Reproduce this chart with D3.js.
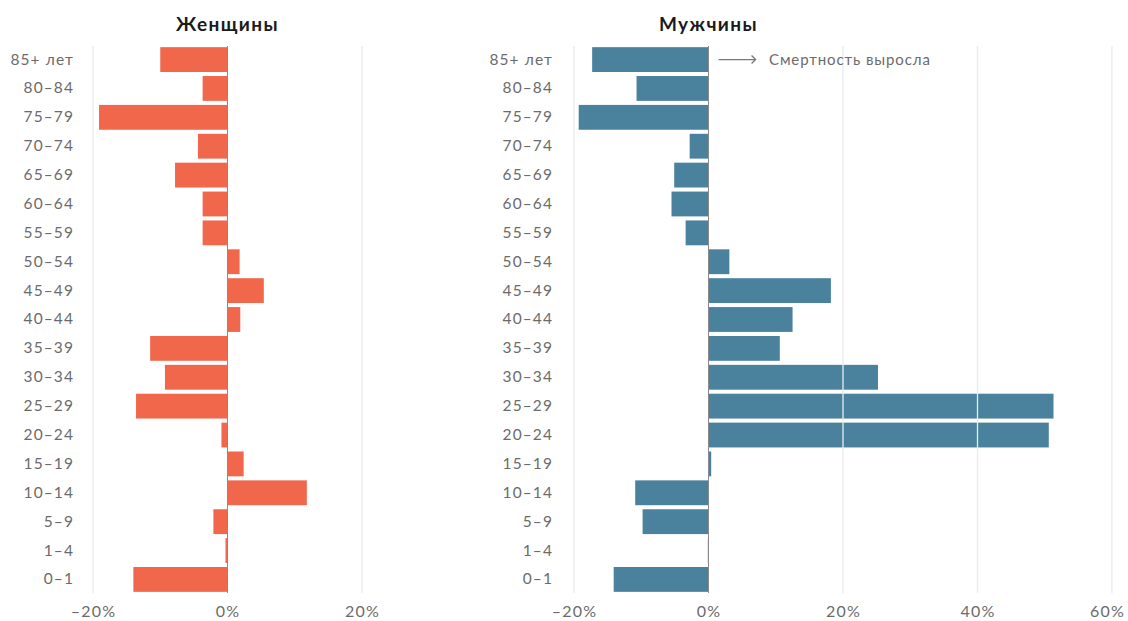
<!DOCTYPE html>
<html>
<head>
<meta charset="utf-8">
<script src="https://d3js.org/d3.v7.min.js"></script>
<style>
  body { margin: 0; background: #ffffff; }
  text { font-family: Lato, "Noto Sans", sans-serif; }
  .tick-label { font-size: 15.5px; fill: #6b6b6b; letter-spacing: 1.1px; }
  .x-label { font-size: 16px; fill: #6b6b6b; letter-spacing: 1.2px; }
  .panel-title { font-size: 19px; font-weight: 700; fill: #1a1a1a; letter-spacing: 1.4px; }
  .note { font-size: 15px; fill: #6b6b6b; letter-spacing: 0.9px; }
</style>
</head>
<body>
<div id="chart"></div>
<script>
// age groups, top to bottom
const ages = ["85+ лет", "80–84", "75–79", "70–74", "65–69", "60–64", "55–59", "50–54", "45–49",
  "40–44", "35–39", "30–34", "25–29", "20–24", "15–19", "10–14", "5–9", "1–4", "0–1"];

// change in mortality, %
const women = [-10, -3.7, -19.1, -4.4, -7.8, -3.7, -3.7, 1.8, 5.4, 1.9, -11.5, -9.3, -13.6, -0.9, 2.4, 11.8, -2.1, -0.3, -14.0];
const men = [-17.3, -10.7, -19.3, -2.8, -5.1, -5.5, -3.4, 3.1, 18.2, 12.5, 10.6, 25.2, 51.3, 50.6, 0.4, -10.9, -9.8, -0.1, -14.1];

const womenTicks = [-20, 0, 20];
const menTicks = [-20, 0, 20, 40, 60];

const width = 1128, height = 621;

const svg = d3.select("#chart")
  .append("svg")
  .attr("width", width)
  .attr("height", height);

const y = d3.scaleBand()
  .domain(ages)
  .range([46, 593])
  .paddingInner(0.14)
  .paddingOuter(0.04);

const panels = [
  {title: "Женщины", values: women, ticks: womenTicks, domain: [-20, 20], range: [93, 362], color: "#f0674c", labelX: 74},
  {title: "Мужчины", values: men, ticks: menTicks, domain: [-20, 60], range: [574, 1112], color: "#4a829e", labelX: 553}
];

panels.forEach(function(p) {
  const x = d3.scaleLinear().domain(p.domain).range(p.range);
  const g = svg.append("g");

  // bars
  g.selectAll("rect.bar")
    .data(p.values)
    .join("rect")
      .attr("class", "bar")
      .attr("x", d => x(Math.min(0, d)))
      .attr("y", (d, i) => y(ages[i]))
      .attr("width", d => Math.max(1, Math.abs(x(d) - x(0))))
      .attr("height", y.bandwidth())
      .attr("fill", p.color);

  // gridlines on top of bars
  g.selectAll("line.grid")
    .data(p.ticks.filter(t => t !== 0))
    .join("line")
      .attr("class", "grid")
      .attr("x1", d => x(d)).attr("x2", d => x(d))
      .attr("y1", 46).attr("y2", 593)
      .attr("stroke", "#e6ecef")
      .attr("stroke-width", 1.3);

  // zero line
  g.append("line")
    .attr("x1", x(0)).attr("x2", x(0))
    .attr("y1", 46).attr("y2", 593)
    .attr("stroke", "#8a8a8a")
    .attr("stroke-width", 1);

  // x axis labels
  const axis = d3.axisBottom(x).tickValues(p.ticks).tickSize(0).tickFormat(d => (d < 0 ? "–" + Math.abs(d) : d) + "%");
  const ax = g.append("g").attr("transform", "translate(0,603)").call(axis);
  ax.select(".domain").remove();
  ax.selectAll("text").attr("class", "x-label").attr("dy", "0.71em")
    .attr("dx", d => d === 60 ? -5 : 0);

  // y labels
  const ay = g.append("g").attr("transform", `translate(${p.labelX},0)`)
    .call(d3.axisLeft(y).tickSize(0).tickPadding(0));
  ay.select(".domain").remove();
  ay.selectAll("text").attr("class", "tick-label");

  // title
  g.append("text")
    .attr("class", "panel-title")
    .attr("x", x(0))
    .attr("y", 31)
    .attr("text-anchor", "middle")
    .text(p.title);
});

// annotation
const xm = d3.scaleLinear().domain([-20, 60]).range([574, 1112]);
const ay0 = y(ages[0]) + y.bandwidth() / 2;
svg.append("line")
  .attr("x1", xm(1.5)).attr("x2", xm(7))
  .attr("y1", ay0).attr("y2", ay0)
  .attr("stroke", "#777").attr("stroke-width", 1.3);
svg.append("path")
  .attr("d", `M${xm(7) - 4},${ay0 - 4} L${xm(7)},${ay0} L${xm(7) - 4},${ay0 + 4}`)
  .attr("fill", "none").attr("stroke", "#777").attr("stroke-width", 1.3);
svg.append("text")
  .attr("class", "note")
  .attr("x", xm(9))
  .attr("y", ay0)
  .attr("dy", "0.35em")
  .text("Смертность выросла");
</script>
</body>
</html>
